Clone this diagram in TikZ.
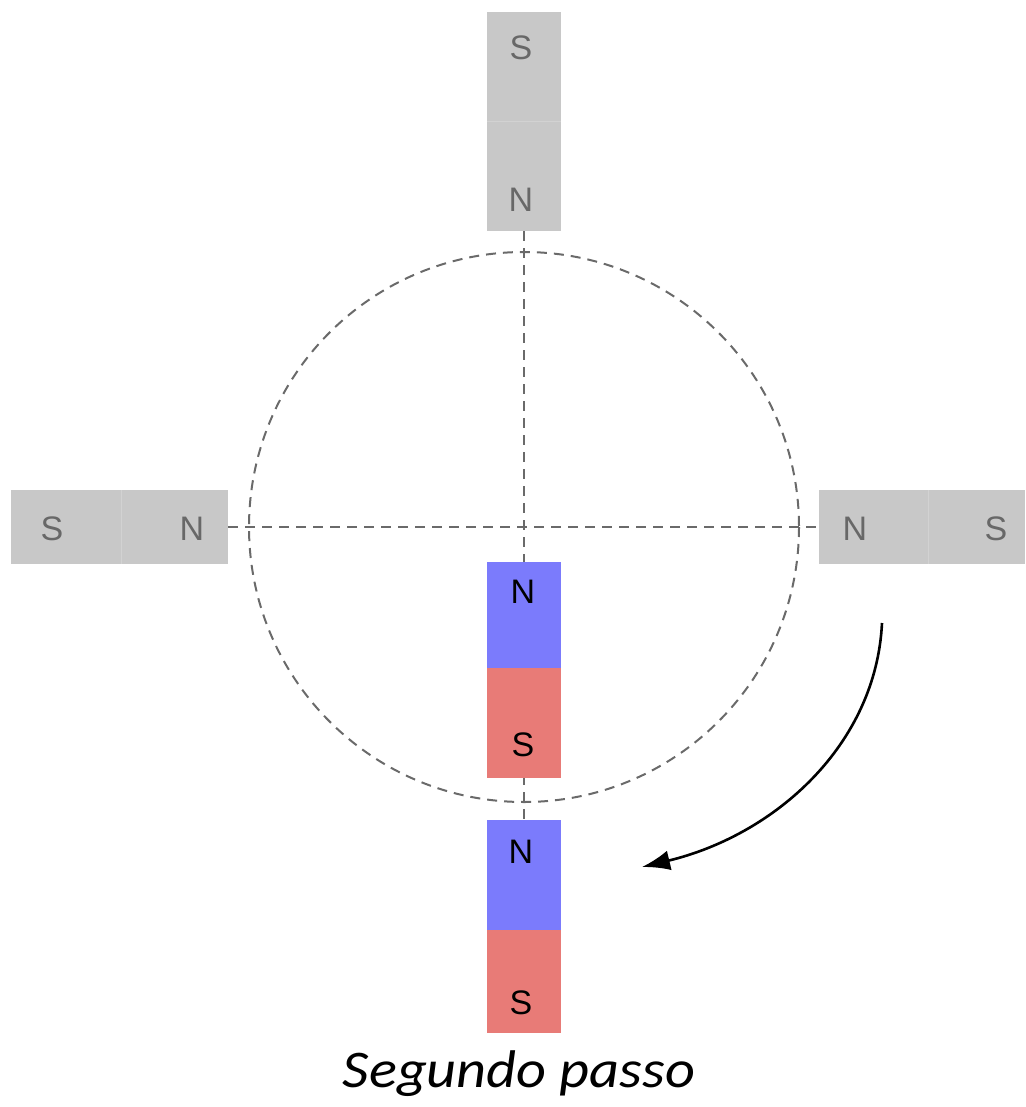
\documentclass[tikz,border=0pt]{standalone}
\usepackage{fontspec}
\setmainfont{Liberation Sans}
\newfontfamily\captionfont{Carlito}
\usetikzlibrary{arrows.meta}
\pgfdeclarelayer{background}
\pgfsetlayers{background,main}
\definecolor{magnetgray}{HTML}{C8C8C8}
\definecolor{polegray}{HTML}{686868}
\definecolor{northblue}{HTML}{7B7BFC}
\definecolor{southred}{HTML}{E87B77}
\definecolor{guidegray}{HTML}{6A6A6A}
\definecolor{seamgray}{HTML}{D2D2D2}
\begin{document}
\begin{tikzpicture}[x=1pt,y=-1pt,
  pole/.style={inner sep=0,font=\fontsize{34}{34}\selectfont},
  guide/.style={draw=guidegray,line width=2pt,dash pattern=on 10pt off 7pt},
  turn/.style={draw=black,line width=2.6pt,-{Latex[length=28pt,width=20pt]}}]
\useasboundingbox (0,0) rectangle (1025,1107);

% fixed upper magnet
\fill[magnetgray] (487,12) rectangle (561,231);
\draw[seamgray,line width=1pt] (487,122) -- (561,122);
\coordinate (topS) at (524,12);
\coordinate (topN) at (524,231);
\node[pole,text=polegray] (tS) at (521,48) {S};
\node[pole,text=polegray] (tN) at (521,200) {N};

% fixed left magnet
\fill[magnetgray] (11,490) rectangle (228,564);
\draw[seamgray,line width=1pt] (121,490) -- (121,564);
\coordinate (leftN) at (228,527);
\node[pole,text=polegray] (lS) at (52,529) {S};
\node[pole,text=polegray] (lN) at (192,529) {N};

% fixed right magnet
\fill[magnetgray] (819,490) rectangle (1025,564);
\draw[seamgray,line width=1pt] (928,490) -- (928,564);
\coordinate (rightN) at (819,527);
\node[pole,text=polegray] (rN) at (855,529) {N};
\node[pole,text=polegray] (rS) at (996,529) {S};

% rotor magnet at the centre
\fill[northblue] (487,562) rectangle (561,668);
\fill[southred] (487,668) rectangle (561,778);
\node[pole] (cN) at (523,592) {N};
\node[pole] (cS) at (523,745) {S};

% rotor magnet after the step
\fill[northblue] (487,820) rectangle (561,930);
\fill[southred] (487,930) rectangle (561,1033);
\coordinate (lowN) at (524,820);
\node[pole] (bN) at (521,852) {N};
\node[pole] (bS) at (521,1003) {S};

% guide lines and rotation circle behind the magnets
\begin{pgfonlayer}{background}
  \coordinate (hub) at (524,527);
  \draw[guide] (hub) circle[radius=275];
  \draw[guide] (topN) -- (lowN);
  \draw[guide] (leftN) -- (rightN);
\end{pgfonlayer}

% direction of rotation
\coordinate (turnA) at (882,623);
\coordinate (turnB) at (642,867);
\draw[turn] (turnA) .. controls (876,745) and (775,835) .. (turnB);

% caption
\node[inner sep=0,anchor=base,font=\captionfont\itshape\fontsize{53}{53}\selectfont] (cap) at (519,1087) {\scalebox{1.1}[1]{Segundo passo}};
\end{tikzpicture}
\end{document}
